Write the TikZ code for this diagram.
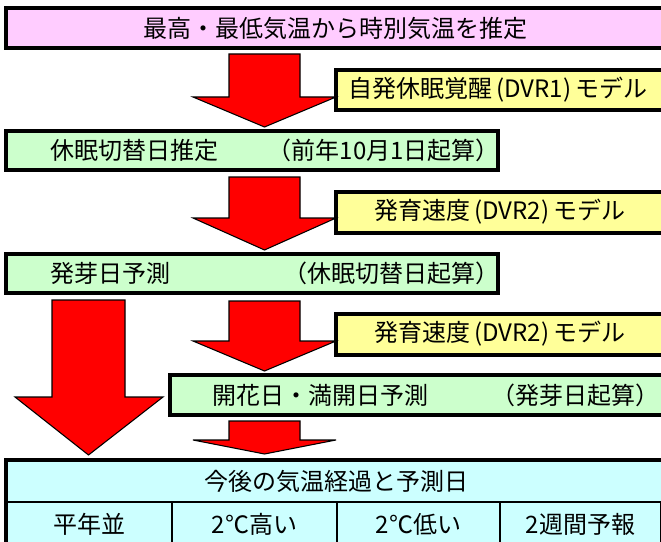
\documentclass[tikz,border=0pt]{standalone}
\usepackage{fontspec}
\setmainfont{Noto Sans CJK JP}
\usetikzlibrary{fit}
\definecolor{pinkfill}{HTML}{FFCCFF}
\definecolor{yellowfill}{HTML}{FFFF99}
\definecolor{greenfill}{HTML}{CCFFCC}
\definecolor{cyanfill}{HTML}{CCFFFF}
\begin{document}
\begin{tikzpicture}[
                x=0.75pt, y=-0.75pt,
                box/.style={draw, line width=3pt, inner sep=0pt},
                titlebox/.style={box, fill=pinkfill},
                modelbox/.style={box, fill=yellowfill},
                stagebox/.style={box, fill=greenfill},
                cell/.style={draw, line width=2pt, fill=cyanfill, inner sep=0pt},
                label/.style={inner sep=0pt, font=\fontsize{18pt}{20pt}\selectfont},
                blockarrow/.style={fill=red, draw=black, line width=0.8pt, line join=miter}
            ]
                \useasboundingbox (0,0) rectangle (661,542);
                \clip (0,0) rectangle (661,542);

                % boxes
                \node[titlebox, fit={(6,8) (667,48)}] (title) {};
                \node[modelbox, fit={(336,70) (667,110)}] (dvr1) {};
                \node[stagebox, fit={(6,131) (498,170)}] (rest) {};
                \node[modelbox, fit={(336,192) (667,233)}] (dvr2a) {};
                \node[stagebox, fit={(6,254) (498,293)}] (bud) {};
                \node[modelbox, fit={(336,314) (667,355)}] (dvr2b) {};
                \node[stagebox, fit={(170,375) (667,415)}] (bloom) {};

                % texts
                \node[label] (titletext) at (335,28) {最高・最低気温から時別気温を推定};
                \node[label] (dvr1text) at (498,90) {自発休眠覚醒\hspace{3pt}(DVR1)\hspace{3pt}モデル};
                \node[label] (dvr2atext) at (500,212) {発育速度\hspace{3pt}(DVR2)\hspace{3pt}モデル};
                \node[label] (dvr2btext) at (500,334) {発育速度\hspace{3pt}(DVR2)\hspace{3pt}モデル};
                \node[label, anchor=west] (resta) at (50,150) {休眠切替日推定};
                \node[label, anchor=east] (restb) at (500,150) {（前年10月1日起算）};
                \node[label, anchor=west] (buda) at (50,273) {発芽日予測};
                \node[label, anchor=east] (budb) at (500,273) {（休眠切替日起算）};
                \node[label, anchor=west] (blooma) at (212,395) {開花日・満開日予測};
                \node[label, anchor=east] (bloomb) at (660,395) {（発芽日起算）};

                % arrows
                \draw[blockarrow] (229,54) -- (300,54) -- (300,97) -- (336,97) -- (264.5,127) -- (193,97) -- (229,97) -- cycle;
                \draw[blockarrow] (229,177) -- (300,177) -- (300,218) -- (336,218) -- (264.5,250) -- (193,218) -- (229,218) -- cycle;
                \draw[blockarrow] (229,301) -- (300,301) -- (300,341) -- (336,341) -- (264.5,371) -- (193,341) -- (229,341) -- cycle;
                \draw[blockarrow] (229,421) -- (300,421) -- (300,440) -- (336,440) -- (264.5,454) -- (193,440) -- (229,440) -- cycle;
                \draw[blockarrow] (52,300) -- (125,300) -- (125,397) -- (163,397) -- (88.5,455) -- (15,397) -- (52,397) -- cycle;

                % table
                \node[cell, fit={(6,460) (667,502)}] (outlook) {};
                \node[cell, fit={(6,502) (172,546)}] (normal) {};
                \node[cell, fit={(172,502) (337,546)}] (warm) {};
                \node[cell, fit={(337,502) (500,546)}] (cool) {};
                \node[cell, fit={(500,502) (661,546)}] (weekly) {};
                \draw[line width=3pt] (667,460) -- (6,460) -- (6,546);
                \node[label] at (outlook.center) {今後の気温経過と予測日};
                \node[label] at (normal.center) {平年並};
                \node[label] at (warm.center) {2℃高い};
                \node[label] at (cool.center) {2℃低い};
                \node[label] at (weekly.center) {2週間予報};
            \end{tikzpicture}
\end{document}
